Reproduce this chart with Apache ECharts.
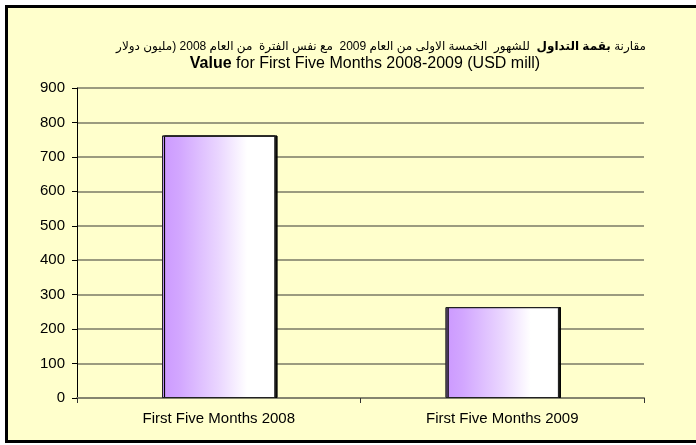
<!DOCTYPE html>
<html>
<head>
<meta charset="utf-8">
<script src="https://cdn.jsdelivr.net/npm/echarts@6/dist/echarts.min.js"></script>
<style>
  html, body { margin: 0; padding: 0; background: #fff; }
  #chart { width: 696px; height: 445px; }
</style>
</head>
<body>
<div id="chart"></div>
<script>
var categories = ['First Five Months 2008', 'First Five Months 2009'];
var values = [762, 264];
var yTicks = [0, 100, 200, 300, 400, 500, 600, 700, 800, 900];

var myChart = echarts.init(document.getElementById('chart'));

// arabic pieces in visual (left to right) order, each wrapped in RTL embedding
var RLE = '\u202B', PDF = '\u202C';
var arRest = 'للشهور  الخمسة الاولى من العام 2009  مع نفس الفترة  من العام 2008 (مليون دولار';
var arBold = 'بقمة التداول';
var arFirst = 'مقارنة';

var font = "'Liberation Sans', Arial, 'DejaVu Sans', sans-serif";

var option = {
  backgroundColor: '#ffffff',
  graphic: [{
    type: 'rect',
    z: -10,
    shape: { x: 6.5, y: 6.5, width: 720, height: 435 },
    style: { fill: '#FFFFCC', stroke: '#000', lineWidth: 3 }
  }],
  title: [{
    left: 376,
    top: 36,
    textAlign: 'center',
    text: '{n|' + RLE + arRest + PDF + '  }{b|' + RLE + arBold + PDF + ' }{n|' + RLE + arFirst + PDF + '}',
    textStyle: {
      fontWeight: 'normal',
      rich: {
        n: { fontFamily: font, fontSize: 12, fontWeight: 'normal', color: '#000' },
        b: { fontFamily: font, fontSize: 12, fontWeight: 'bold', color: '#000' }
      }
    }
  }, {
    left: 360,
    top: 51,
    textAlign: 'center',
    text: '{b|Value}{n| for First Five Months 2008-2009 (USD mill)}',
    textStyle: {
      fontWeight: 'normal',
      rich: {
        n: { fontFamily: font, fontSize: 16, fontWeight: 'normal', color: '#000' },
        b: { fontFamily: font, fontSize: 16, fontWeight: 'bold', color: '#000' }
      }
    }
  }],
  grid: { left: 77, right: 52, top: 88, bottom: 47 },
  xAxis: {
    type: 'category',
    data: categories,
    axisLine: { show: true, lineStyle: { color: '#85856f', width: 2 } },
    axisTick: { show: true, length: 5, lineStyle: { color: '#333' } },
    axisLabel: { margin: 13, color: '#000', fontSize: 15, fontFamily: font }
  },
  yAxis: {
    type: 'value',
    min: 0,
    max: 900,
    interval: 100,
    axisLine: { show: true, lineStyle: { color: '#000', width: 1 } },
    axisTick: { show: true, length: 5, lineStyle: { color: '#000' } },
    axisLabel: {
      margin: 12, color: '#000', fontSize: 15, fontFamily: font,
      formatter: function (v) { return yTicks.indexOf(v) >= 0 ? String(v) : ''; }
    },
    splitLine: { show: true, lineStyle: { color: '#7a7a66', width: 1.5 } }
  },
  series: [{
    type: 'bar',
    data: values,
    barWidth: '40%',
    itemStyle: {
      color: new echarts.graphic.LinearGradient(0, 0, 1, 0, [
        { offset: 0, color: '#CC99FF' },
        { offset: 0.15, color: '#D2A6FF' },
        { offset: 0.5, color: '#EAD6FF' },
        { offset: 0.75, color: '#FFFFFF' },
        { offset: 1, color: '#FFFFFF' }
      ]),
      borderColor: '#222',
      borderWidth: 1,
      shadowColor: 'rgba(0,0,0,0.9)',
      shadowOffsetX: 2,
      shadowOffsetY: 0,
      shadowBlur: 0
    }
  }]
};

myChart.setOption(option);
</script>
</body>
</html>
